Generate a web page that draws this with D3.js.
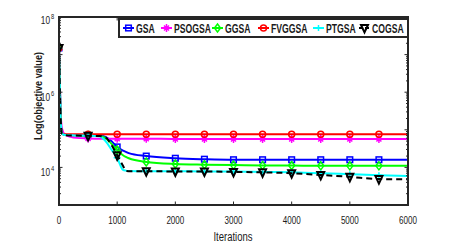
<!DOCTYPE html>
<html>
<head>
<meta charset="utf-8">
<script src="https://cdn.jsdelivr.net/npm/d3@7"></script>
<style>
  body { margin: 0; background: #fff; }
  svg { display: block; }
  text { font-family: "Liberation Sans", Arial, sans-serif; fill: #1a1a1a; }
</style>
</head>
<body>
<svg width="452" height="245"></svg>
<script>
const svg = d3.select("svg");

// iteration grid shared by all series
const iters = [0, 25, 50, 100, 200, 300, 500, 700, 800, 900, 1000, 1100, 1150, 1200, 1500, 2000, 2500, 3000, 3500, 4000, 4500, 5000, 5500, 6000];

const gsa    = [1.5e7, 3e5, 8e4, 7.4e4, 7.2e4, 7.1e4, 7e4, 6.9e4, 6.5e4, 5e4, 3.5e4, 2.8e4, 2.6e4, 2.4e4, 2e4, 1.75e4, 1.65e4, 1.6e4, 1.6e4, 1.6e4, 1.6e4, 1.6e4, 1.6e4, 1.6e4];
const psogsa = [1.5e7, 4e5, 1.1e5, 7.5e4, 6.5e4, 6.1e4, 5.9e4, 5.8e4, 5.8e4, 5.8e4, 5.8e4, 5.8e4, 5.8e4, 5.8e4, 5.8e4, 5.7e4, 5.7e4, 5.7e4, 5.7e4, 5.7e4, 5.7e4, 5.7e4, 5.7e4, 5.7e4];
const ggsa   = [1.5e7, 3e5, 8e4, 7.4e4, 7.2e4, 7.1e4, 7e4, 6.8e4, 6e4, 4.3e4, 2.9e4, 2.1e4, 1.9e4, 1.75e4, 1.4e4, 1.23e4, 1.18e4, 1.15e4, 1.13e4, 1.12e4, 1.1e4, 1.1e4, 1.1e4, 1.1e4];
const fvggsa = [1.5e7, 2e5, 7.8e4, 7.6e4, 7.6e4, 7.6e4, 7.6e4, 7.6e4, 7.6e4, 7.6e4, 7.6e4, 7.6e4, 7.6e4, 7.6e4, 7.6e4, 7.6e4, 7.6e4, 7.6e4, 7.6e4, 7.6e4, 7.6e4, 7.6e4, 7.6e4, 7.6e4];
const ptgsa  = [1.5e7, 3e5, 8e4, 7.3e4, 7.2e4, 7.1e4, 7e4, 6.6e4, 5e4, 3e4, 1.8e4, 8.6e3, 8.2e3, 8e3, 7.9e3, 7.9e3, 7.8e3, 7.8e3, 7.6e3, 7.4e3, 7e3, 6.6e3, 6.2e3, 5.9e3];
const cogsa  = [1.5e7, 3e5, 8e4, 7.2e4, 7e4, 7e4, 6.9e4, 6.8e4, 6.3e4, 4e4, 2.1e4, 1.1e4, 8e3, 7.9e3, 7.9e3, 7.8e3, 7.8e3, 7.6e3, 7.4e3, 7e3, 6.3e3, 5.6e3, 4.9e3, 4.8e3];

const names   = ["GSA", "PSOGSA", "GGSA", "FVGGSA", "PTGSA", "COGSA"];
const colors  = ["#0000ff", "#ff00ff", "#00ff00", "#ff0000", "#00ffff", "#000000"];
const markers = ["square", "plus", "diamond", "circle", "star", "triangle"];
const values  = [gsa, psogsa, ggsa, fvggsa, ptgsa, cogsa];

const xTicks = [0, 1000, 2000, 3000, 4000, 5000, 6000];
const yMajor = [1e4, 1e6, 1e8];

const plotL = 59, plotR = 408, plotT = 17, plotB = 205;

const x = d3.scaleLinear().domain([0, 6000]).range([plotL, plotR]);
const y = d3.scaleLog().domain([1e3, 1e8]).range([plotB, plotT]);

const series = names.map((n, i) => ({
  name: n, color: colors[i], marker: markers[i],
  points: iters.map((t, j) => ({t: t, v: values[i][j]}))
}));

const line = d3.line()
  .x(d => x(d.t))
  .y(d => y(d.v))
  .curve(d3.curveMonotoneX);

// no narrow font installed, so squeeze text horizontally
function squeeze(sel, k){
  sel.each(function(){
    const w = this.getComputedTextLength();
    d3.select(this).attr("textLength", w * k).attr("lengthAdjust", "spacingAndGlyphs");
  });
}

const plot = svg.append("g");
plot.append("clipPath").attr("id", "clip")
  .append("rect").attr("x", plotL).attr("y", plotT).attr("width", plotR - plotL).attr("height", plotB - plotT);

const lines = plot.append("g").attr("clip-path", "url(#clip)");

// draw a marker shape centred on 0,0
function drawMarker(g, type, color){
  const sw = 1.5;
  if (type === "square"){
    g.append("rect").attr("x", -2.8).attr("y", -2.8).attr("width", 5.6).attr("height", 5.6)
      .attr("fill", "none").attr("stroke", color).attr("stroke-width", sw);
  } else if (type === "circle"){
    g.append("circle").attr("r", 3).attr("fill", "none").attr("stroke", color).attr("stroke-width", sw);
  } else if (type === "diamond"){
    g.append("path").attr("d", "M0,-4L3,0L0,4L-3,0Z").attr("fill", "none").attr("stroke", color).attr("stroke-width", sw);
  } else if (type === "triangle"){
    g.append("path").attr("d", "M-3.5,-3L3.5,-3L0,4.5Z").attr("fill", "none").attr("stroke", color).attr("stroke-width", 2);
  } else if (type === "plus"){
    g.append("path").attr("d", "M-3.5,0L3.5,0M0,-4L0,4M-2.5,-2.5L2.5,2.5M-2.5,2.5L2.5,-2.5").attr("stroke", color).attr("stroke-width", sw);
  } else if (type === "star"){
    g.append("path").attr("d", "M-3.5,0L3.5,0M0,-3L0,3").attr("stroke", color).attr("stroke-width", sw);
  }
}

series.forEach(s => {
  lines.append("path")
    .datum(s.points)
    .attr("fill", "none")
    .attr("stroke", s.color)
    .attr("stroke-width", 2)
    .attr("stroke-dasharray", s.name === "COGSA" ? "6,4" : null)
    .attr("d", line);

  s.points.filter(d => d.t % 500 === 0 && d.t < 6000).forEach(d => {
    const g = lines.append("g").attr("transform", `translate(${x(d.t)},${y(d.v)})`);
    drawMarker(g, s.marker, s.color);
  });
});

// axes box and ticks
const axisColor = "#262626";
const axes = svg.append("g");

xTicks.forEach(t => {
  axes.append("line").attr("x1", x(t)).attr("x2", x(t)).attr("y1", plotB).attr("y2", plotB - 3.5)
    .attr("stroke", axisColor).attr("stroke-width", 1);
  axes.append("line").attr("x1", x(t)).attr("x2", x(t)).attr("y1", plotT).attr("y2", plotT + 3.5)
    .attr("stroke", axisColor).attr("stroke-width", 1);
  axes.append("text").attr("class", "xtick").attr("x", x(t)).attr("y", 224)
    .attr("text-anchor", "middle").attr("font-size", 11.5).text(t);
});
squeeze(axes.selectAll(".xtick"), 0.7);

// log ticks, major and minor, on both sides
const allY = [];
for (let e = 3; e < 8; e++){
  for (let m = 1; m < 10; m++) allY.push({v: m * Math.pow(10, e), major: m === 1});
}
allY.push({v: 1e8, major: true});
allY.forEach(d => {
  const len = d.major ? 3.5 : 2;
  axes.append("line").attr("x1", plotL).attr("x2", plotL + len).attr("y1", y(d.v)).attr("y2", y(d.v))
    .attr("stroke", axisColor).attr("stroke-width", 1);
  axes.append("line").attr("x1", plotR).attr("x2", plotR - len).attr("y1", y(d.v)).attr("y2", y(d.v))
    .attr("stroke", axisColor).attr("stroke-width", 1);
});

// 10^n labels: base and exponent side by side in a squeezed group
yMajor.forEach(v => {
  const yy = v === 1e8 ? y(v) + 7 : y(v) + 9;
  const g = axes.append("g").attr("transform", `translate(50,${yy}) scale(0.72,1)`);
  g.append("text").attr("x", 0).attr("y", 0)
    .attr("text-anchor", "end").attr("font-size", 11.5).text("10");
  g.append("text").attr("x", 1.5).attr("y", -5.5)
    .attr("font-size", 8).text(Math.round(Math.log10(v)));
});

axes.append("rect").attr("x", plotL).attr("y", plotT).attr("width", plotR - plotL).attr("height", plotB - plotT)
  .attr("fill", "none").attr("stroke", axisColor).attr("stroke-width", 2);

// axis labels
const xlab = svg.append("text").attr("x", 233).attr("y", 241).attr("text-anchor", "middle")
  .attr("font-size", 12.5).text("Iterations");
squeeze(xlab, 0.76);

svg.append("text").attr("transform", "translate(42,96) rotate(-90)")
  .attr("text-anchor", "middle").attr("font-size", 10.5).attr("font-weight", "bold")
  .attr("textLength", 88).attr("lengthAdjust", "spacingAndGlyphs")
  .text("Log(objective value)");

// legend
const legX = [123, 161, 212, 258, 313, 359];
const legend = svg.append("g");
legend.append("rect").attr("x", 119).attr("y", 19).attr("width", plotR - 119).attr("height", 18)
  .attr("fill", "#fff").attr("stroke", axisColor).attr("stroke-width", 2);

series.forEach((s, i) => {
  legend.append("line").attr("x1", legX[i]).attr("x2", legX[i] + 11).attr("y1", 28).attr("y2", 28)
    .attr("stroke", s.color).attr("stroke-width", 2)
    .attr("stroke-dasharray", s.name === "COGSA" ? "4,2" : null);
  const g = legend.append("g").attr("transform", `translate(${legX[i] + 5.5},28)`);
  drawMarker(g, s.marker, s.color);
  const t = legend.append("text").attr("x", legX[i] + 13).attr("y", 32.5)
    .attr("font-size", 12).attr("font-weight", "bold").text(s.name);
  squeeze(t, 0.72);
});
</script>
</body>
</html>
